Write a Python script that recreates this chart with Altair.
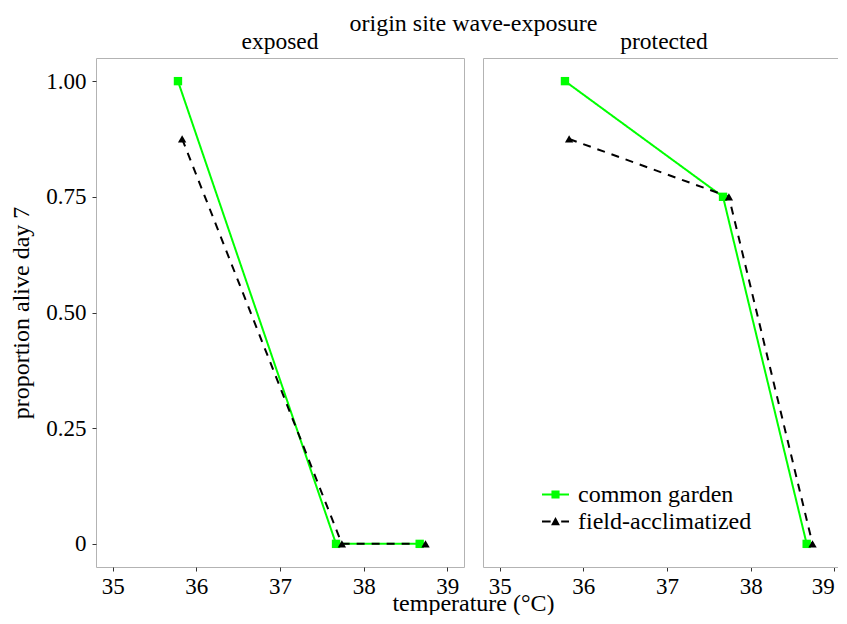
import altair as alt
import pandas as pd

# ---- data ----
panels = ["exposed", "protected"]
groups = ["common garden", "field-acclimatized"]
temp_common = [35.78, 37.67, 38.67]
temp_field = [35.83, 37.74, 38.74]
exposed_common = [1.0, 0.0, 0.0]
exposed_field = [0.875, 0.0, 0.0]
protected_common = [1.0, 0.75, 0.0]
protected_field = [0.875, 0.75, 0.0]
x_ticks = [35, 36, 37, 38, 39]
y_ticks = [0, 0.25, 0.5, 0.75, 1.0]

rows = []
for panel, common, field in [("exposed", exposed_common, exposed_field),
                             ("protected", protected_common, protected_field)]:
    for t, v in zip(temp_common, common):
        rows.append({"panel": panel, "group": groups[0], "temp": t, "prop": v})
    for t, v in zip(temp_field, field):
        rows.append({"panel": panel, "group": groups[1], "temp": t, "prop": v})
df = pd.DataFrame(rows)

FONT = "Liberation Serif"
FRAME = "#b3b3b3"
LEFT_W, RIGHT_W, H = 368, 362, 509
X_MIN, X_MAX = 34.8, 39.2
x_right_max = X_MIN + (X_MAX - X_MIN) * RIGHT_W / LEFT_W

color_scale = alt.Scale(domain=groups, range=["#00ff00", "#000000"])
dash_scale = alt.Scale(domain=groups, range=[[1, 0], [8, 7]])
y_scale = alt.Scale(domain=[-0.05, 1.05], nice=False, zero=False)

path_cg = "M-1,-0.075H1V0.075H-1Z M-0.3,-0.3H0.3V0.3H-0.3Z"
path_fa = ("M-1,-0.075H-0.36V0.075H-1Z M0.42,-0.075H1V0.075H0.42Z "
           "M0,-0.34L0.33,0.27H-0.33Z")


def panel_chart(name, x_max, left):
    data = df[df["panel"] == name]
    base = alt.Chart(data)
    x_scale = alt.Scale(domain=[X_MIN, x_max], nice=False, zero=False)
    if left:
        x_axis = alt.Axis(values=x_ticks, domain=False, title="temperature (°C)",
                          titleX=377, titleY=43, titleAlign="center",
                          titleBaseline="alphabetic")
        y_axis = alt.Axis(values=y_ticks, domain=False, title="proportion alive day 7",
                          labelExpr="datum.value == 0 ? '0' : format(datum.value, '.2f')")
    else:
        x_axis = alt.Axis(values=x_ticks, domain=True, domainColor=FRAME, title=None,
                          labelAlign={"condition": {"test": "datum.value == 39",
                                                    "value": "right"},
                                      "value": "center"})
        y_axis = alt.Axis(values=y_ticks, domain=True, domainColor=FRAME, labels=False,
                          ticks=False, title=None)
    lines = base.mark_line(strokeWidth=2).encode(
        x=alt.X("temp:Q", scale=x_scale, axis=x_axis),
        y=alt.Y("prop:Q", scale=y_scale, axis=y_axis),
        color=alt.Color("group:N", scale=color_scale, legend=None),
        strokeDash=alt.StrokeDash("group:N", scale=dash_scale, legend=None),
        detail="group:N",
    )
    pts = []
    for g, shp in zip(groups, ["square", "triangle-up"]):
        pts.append(
            base.transform_filter(alt.datum.group == g)
            .mark_point(shape=shp, filled=True, size=70, opacity=1)
            .encode(
                x=alt.X("temp:Q", scale=x_scale, axis=None),
                y=alt.Y("prop:Q", scale=y_scale, axis=y_axis),
                color=alt.Color("group:N", scale=color_scale, legend=None),
            )
        )
    layers = [lines] + pts
    if not left:
        legend_layer = base.transform_filter("false").mark_point(
            filled=True, opacity=1).encode(
            x=alt.X("temp:Q", scale=x_scale,
                    axis=alt.Axis(orient="top", domain=True, domainColor=FRAME,
                                  labels=False, ticks=False, title=None)),
            y=alt.Y("prop:Q", scale=y_scale, axis=y_axis),
            fill=alt.Fill("group:N", scale=color_scale, title=None,
                          legend=alt.Legend(orient="none", legendX=59, legendY=423,
                                            symbolSize=729, symbolStrokeWidth=0,
                                            labelFont=FONT, labelFontSize=24,
                                            labelColor="black", labelOffset=9,
                                            labelLimit=400,
                                            rowPadding=1, padding=0)),
            shape=alt.Shape("group:N", scale=alt.Scale(domain=groups, range=[path_cg, path_fa]),
                            title=None),
        )
        layers.append(legend_layer)
    ch = alt.layer(*layers).resolve_axis(x="independent")
    w = LEFT_W if left else RIGHT_W
    props = dict(width=w, height=H,
                 title=alt.TitleParams(name, font=FONT, fontSize=23.5, fontWeight="normal",
                                       color="black", anchor="middle", offset=4.5))
    if not left:
        props["view"] = alt.ViewBackground(stroke="transparent")
    return ch.properties(**props)


left = panel_chart("exposed", X_MAX, True)
right = panel_chart("protected", x_right_max, False)

chart = alt.hconcat(left, right, spacing=19, bounds="flush").resolve_scale(
    x="independent"
).resolve_legend(
    fill="independent", shape="independent"
).properties(
    title=alt.TitleParams("origin site wave-exposure", font=FONT, fontSize=24,
                          fontWeight="normal", color="black", anchor="start",
                          dx=341, offset=-6),
    padding={"left": 0, "top": 3, "right": -8, "bottom": -1},
).configure_view(stroke=FRAME, strokeWidth=1).configure_axis(
    grid=False, labelFont=FONT, labelFontSize=23, labelColor="black",
    titleFont=FONT, titleFontSize=24, titleFontWeight="normal", titleColor="black",
    tickColor="#333333", tickSize=4, labelPadding=6, titlePadding=12.75,
).configure_axisBottom(labelBaseline="alphabetic", labelPadding=22)

chart.save("out.html", embed_options={"renderer": "svg", "actions": False})
